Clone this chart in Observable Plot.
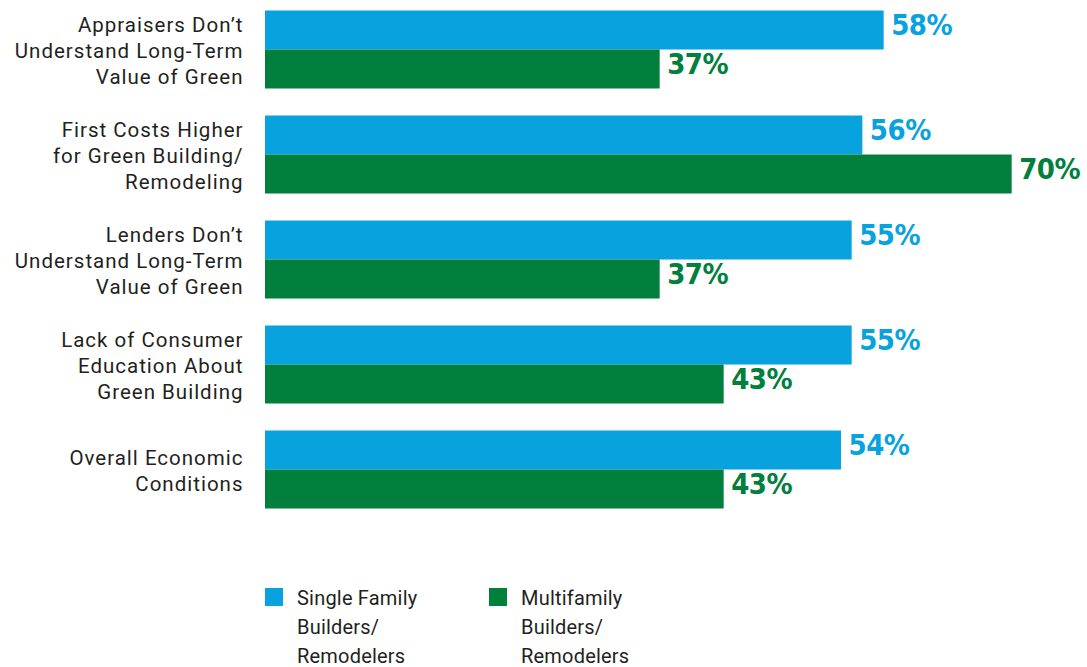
<!DOCTYPE html>
<html><head><meta charset="utf-8">
<script src="https://cdn.jsdelivr.net/npm/d3@7"></script>
<script src="https://cdn.jsdelivr.net/npm/@observablehq/plot@0.6"></script>
<style>
body{margin:0;background:#fff;font-family:Roboto,"DejaVu Sans",sans-serif;color:#231f20;}
#chart{width:1087px;}
.legend{position:relative;height:100px;margin-top:54.5px;font-size:20px;line-height:29px;letter-spacing:0.2px;}
.item{position:absolute;top:0;}
.sw{position:absolute;top:4.5px;width:18px;height:18px;}
.lbl{position:absolute;top:0;white-space:pre;}
</style></head><body>
<div id="chart"></div>
<script>
const categories = [
  "Appraisers Don’t\nUnderstand Long-Term\nValue of Green",
  "First Costs Higher\nfor Green Building/\nRemodeling",
  "Lenders Don’t\nUnderstand Long-Term\nValue of Green",
  "Lack of Consumer\nEducation About\nGreen Building",
  "Overall Economic\nConditions"
];
const seriesNames = ["Single Family\nBuilders/\nRemodelers", "Multifamily\nBuilders/\nRemodelers"];
const singleFamily = [58, 56, 55, 55, 54];
const multifamily = [37, 70, 37, 43, 43];
const colors = ["#08a3df", "#00803c"];

const data = categories.flatMap((c, i) => [
  {category: c, series: seriesNames[0], value: singleFamily[i]},
  {category: c, series: seriesNames[1], value: multifamily[i]}
]);

const chart = Plot.plot({
  width: 1087,
  height: 529,
  marginLeft: 265,
  marginRight: 22,
  marginTop: 9.5,
  marginBottom: 20,
  style: {background: "#fff", color: "#231f20"},
  x: {domain: [0, 75], axis: null},
  y: {domain: seriesNames, padding: 0, axis: null},
  fy: {domain: categories, paddingInner: 0.254, paddingOuter: 0, axis: null},
  color: {domain: seriesNames, range: colors},
  facet: {data, y: "category"},
  marks: [
    Plot.barX(data, {x: "value", y: "series", fill: "series"}),
    Plot.text(data, {
      x: "value", y: "series", text: d => d.value + "%", fill: "series",
      dx: 7, dy: -5, textAnchor: "start", fontSize: 29, fontWeight: "bold",
      fontFamily: "'DejaVu Sans Condensed','DejaVu Sans',sans-serif"
    }),
    Plot.text(data, {
      filter: d => d.series === seriesNames[0],
      x: 0, text: "category", textAnchor: "end", dx: -22,
      fontSize: 20.5, fill: "#231f20", lineHeight: 1.27,
      fontFamily: "Roboto, sans-serif"
    })
  ]
});
const groups = chart.querySelectorAll('g[aria-label="text"]');
if (groups.length > 1) {
  groups[0].style.fontStretch = "condensed";
  groups[0].style.letterSpacing = "-0.5px";
  groups[groups.length - 1].style.letterSpacing = "1px";
}
document.getElementById("chart").appendChild(chart);

const legend = document.createElement("div");
legend.className = "legend";
const lx = [265, 489];
seriesNames.forEach((s, i) => {
  const it = document.createElement("div");
  it.className = "item";
  it.style.left = lx[i] + "px";
  const sw = document.createElement("div");
  sw.className = "sw";
  sw.style.left = "0px";
  sw.style.background = colors[i];
  const t = document.createElement("div");
  t.className = "lbl";
  t.style.left = "32px";
  t.textContent = s;
  it.appendChild(sw); it.appendChild(t);
  legend.appendChild(it);
});
document.getElementById("chart").appendChild(legend);
</script>
</body></html>
